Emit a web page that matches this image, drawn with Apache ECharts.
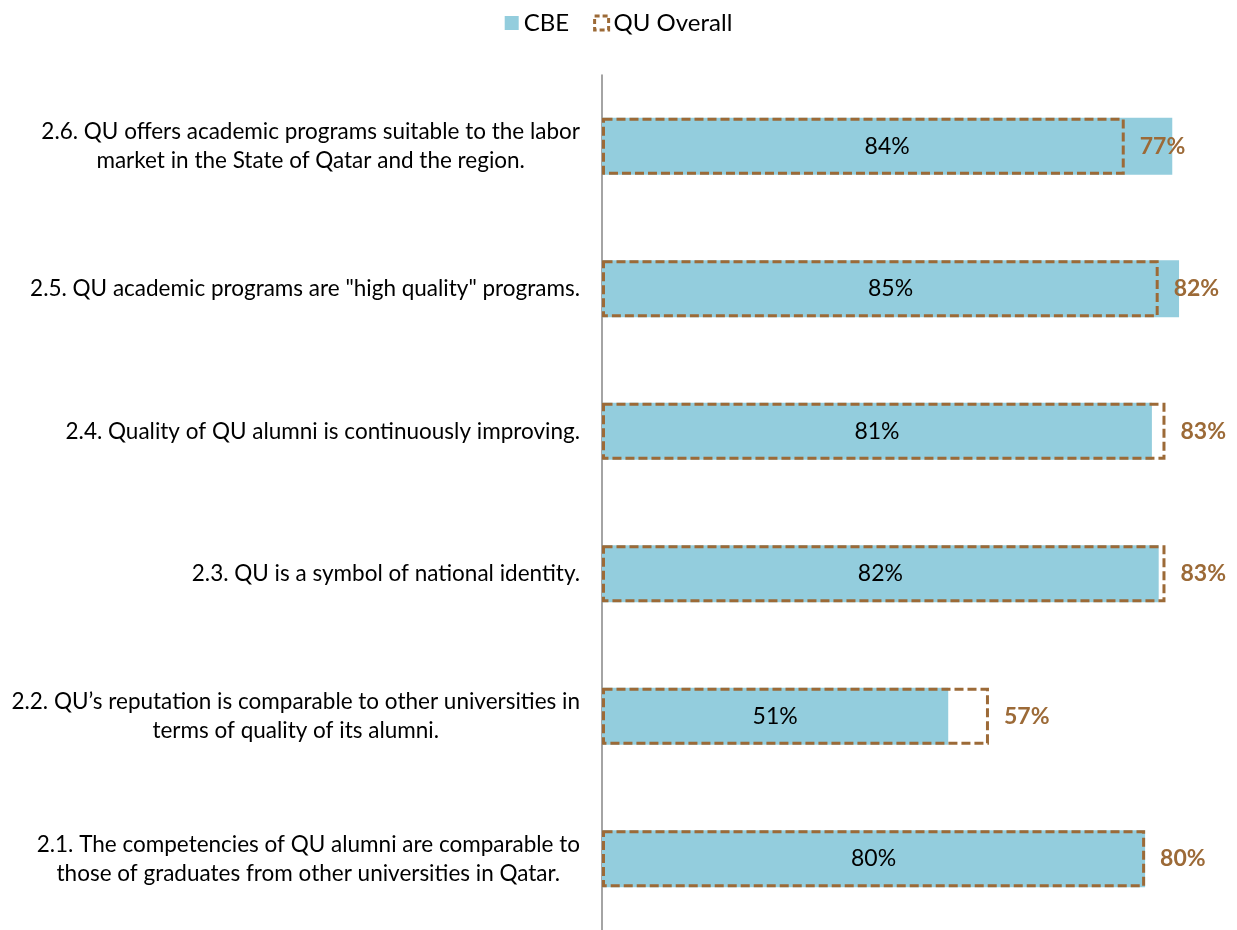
<!DOCTYPE html>
<html>
<head>
<meta charset="utf-8">
<script src="https://cdn.jsdelivr.net/npm/echarts@6/dist/echarts.min.js"></script>
<style>
  html, body { margin: 0; padding: 0; background: #fff; }
  #chart { width: 1237px; height: 930px; }
</style>
</head>
<body>
<div id="chart"></div>
<script>
// bottom to top, as the category axis draws them
var categories = [
  "2.1. The competencies of QU alumni are comparable to\nthose of graduates from other universities in Qatar.",
  "2.2. QU\u2019s reputation is comparable to other universities in\nterms of quality of its alumni.",
  "2.3. QU is a symbol of national identity.",
  "2.4. Quality of QU alumni is continuously improving.",
  "2.5. QU academic programs are \"high quality\" programs.",
  "2.6. QU offers academic programs suitable to the labor\nmarket in the State of Qatar and the region."
];
var cbeValues = [80, 51, 82, 81, 85, 84];
var quOverallValues = [80, 57, 83, 83, 82, 77];

var BLUE = "#93cddd";
var BROWN = "#9c6a37";
var FONT = "Lato";

var chart = echarts.init(document.getElementById("chart"));

chart.setOption({
  animation: false,
  textStyle: { fontFamily: FONT },
  legend: {
    top: 6,
    left: "center",
    itemWidth: 14,
    itemHeight: 14,
    itemGap: 24,
    textStyle: { fontSize: 24, color: "#000", fontFamily: FONT },
    data: [
      { name: "CBE", icon: "rect", itemStyle: { color: BLUE } },
      {
        name: "QU Overall",
        icon: "rect",
        itemStyle: { color: "transparent", borderColor: BROWN, borderWidth: 3, borderType: [5, 3] }
      }
    ]
  },
  grid: { left: 602, right: 24, top: 75, bottom: -3, containLabel: false },
  xAxis: {
    type: "value",
    min: 0,
    max: 90,
    show: false,
    splitLine: { show: false }
  },
  yAxis: {
    type: "category",
    data: categories,
    axisTick: { show: false },
    axisLine: { show: true, lineStyle: { color: "#868686", width: 1.5 } },
    axisLabel: {
      margin: 22,
      align: "right",
      formatter: function (v) {
        return v.split("\n").map(function (l) { return "{c|" + l + "}"; }).join("\n");
      },
      rich: {
        c: { align: "center", fontSize: 22.5, lineHeight: 29, color: "#000", fontFamily: FONT }
      }
    }
  },
  series: [
    {
      name: "CBE",
      type: "bar",
      barWidth: 57,
      barGap: "-100%",
      itemStyle: { color: BLUE },
      label: {
        show: true,
        position: "inside",
        color: "#000",
        fontSize: 23,
        fontFamily: FONT,
        formatter: "{c}%"
      },
      data: cbeValues
    },
    {
      name: "QU Overall",
      type: "bar",
      barWidth: 57,
      barGap: "-100%",
      itemStyle: {
        color: "transparent",
        borderColor: BROWN,
        borderWidth: 3,
        borderType: [9, 4]
      },
      label: {
        show: true,
        position: "right",
        distance: 15,
        color: BROWN,
        fontSize: 23,
        fontWeight: "bold",
        fontFamily: FONT,
        formatter: "{c}%"
      },
      data: quOverallValues
    }
  ]
});
</script>
</body>
</html>
